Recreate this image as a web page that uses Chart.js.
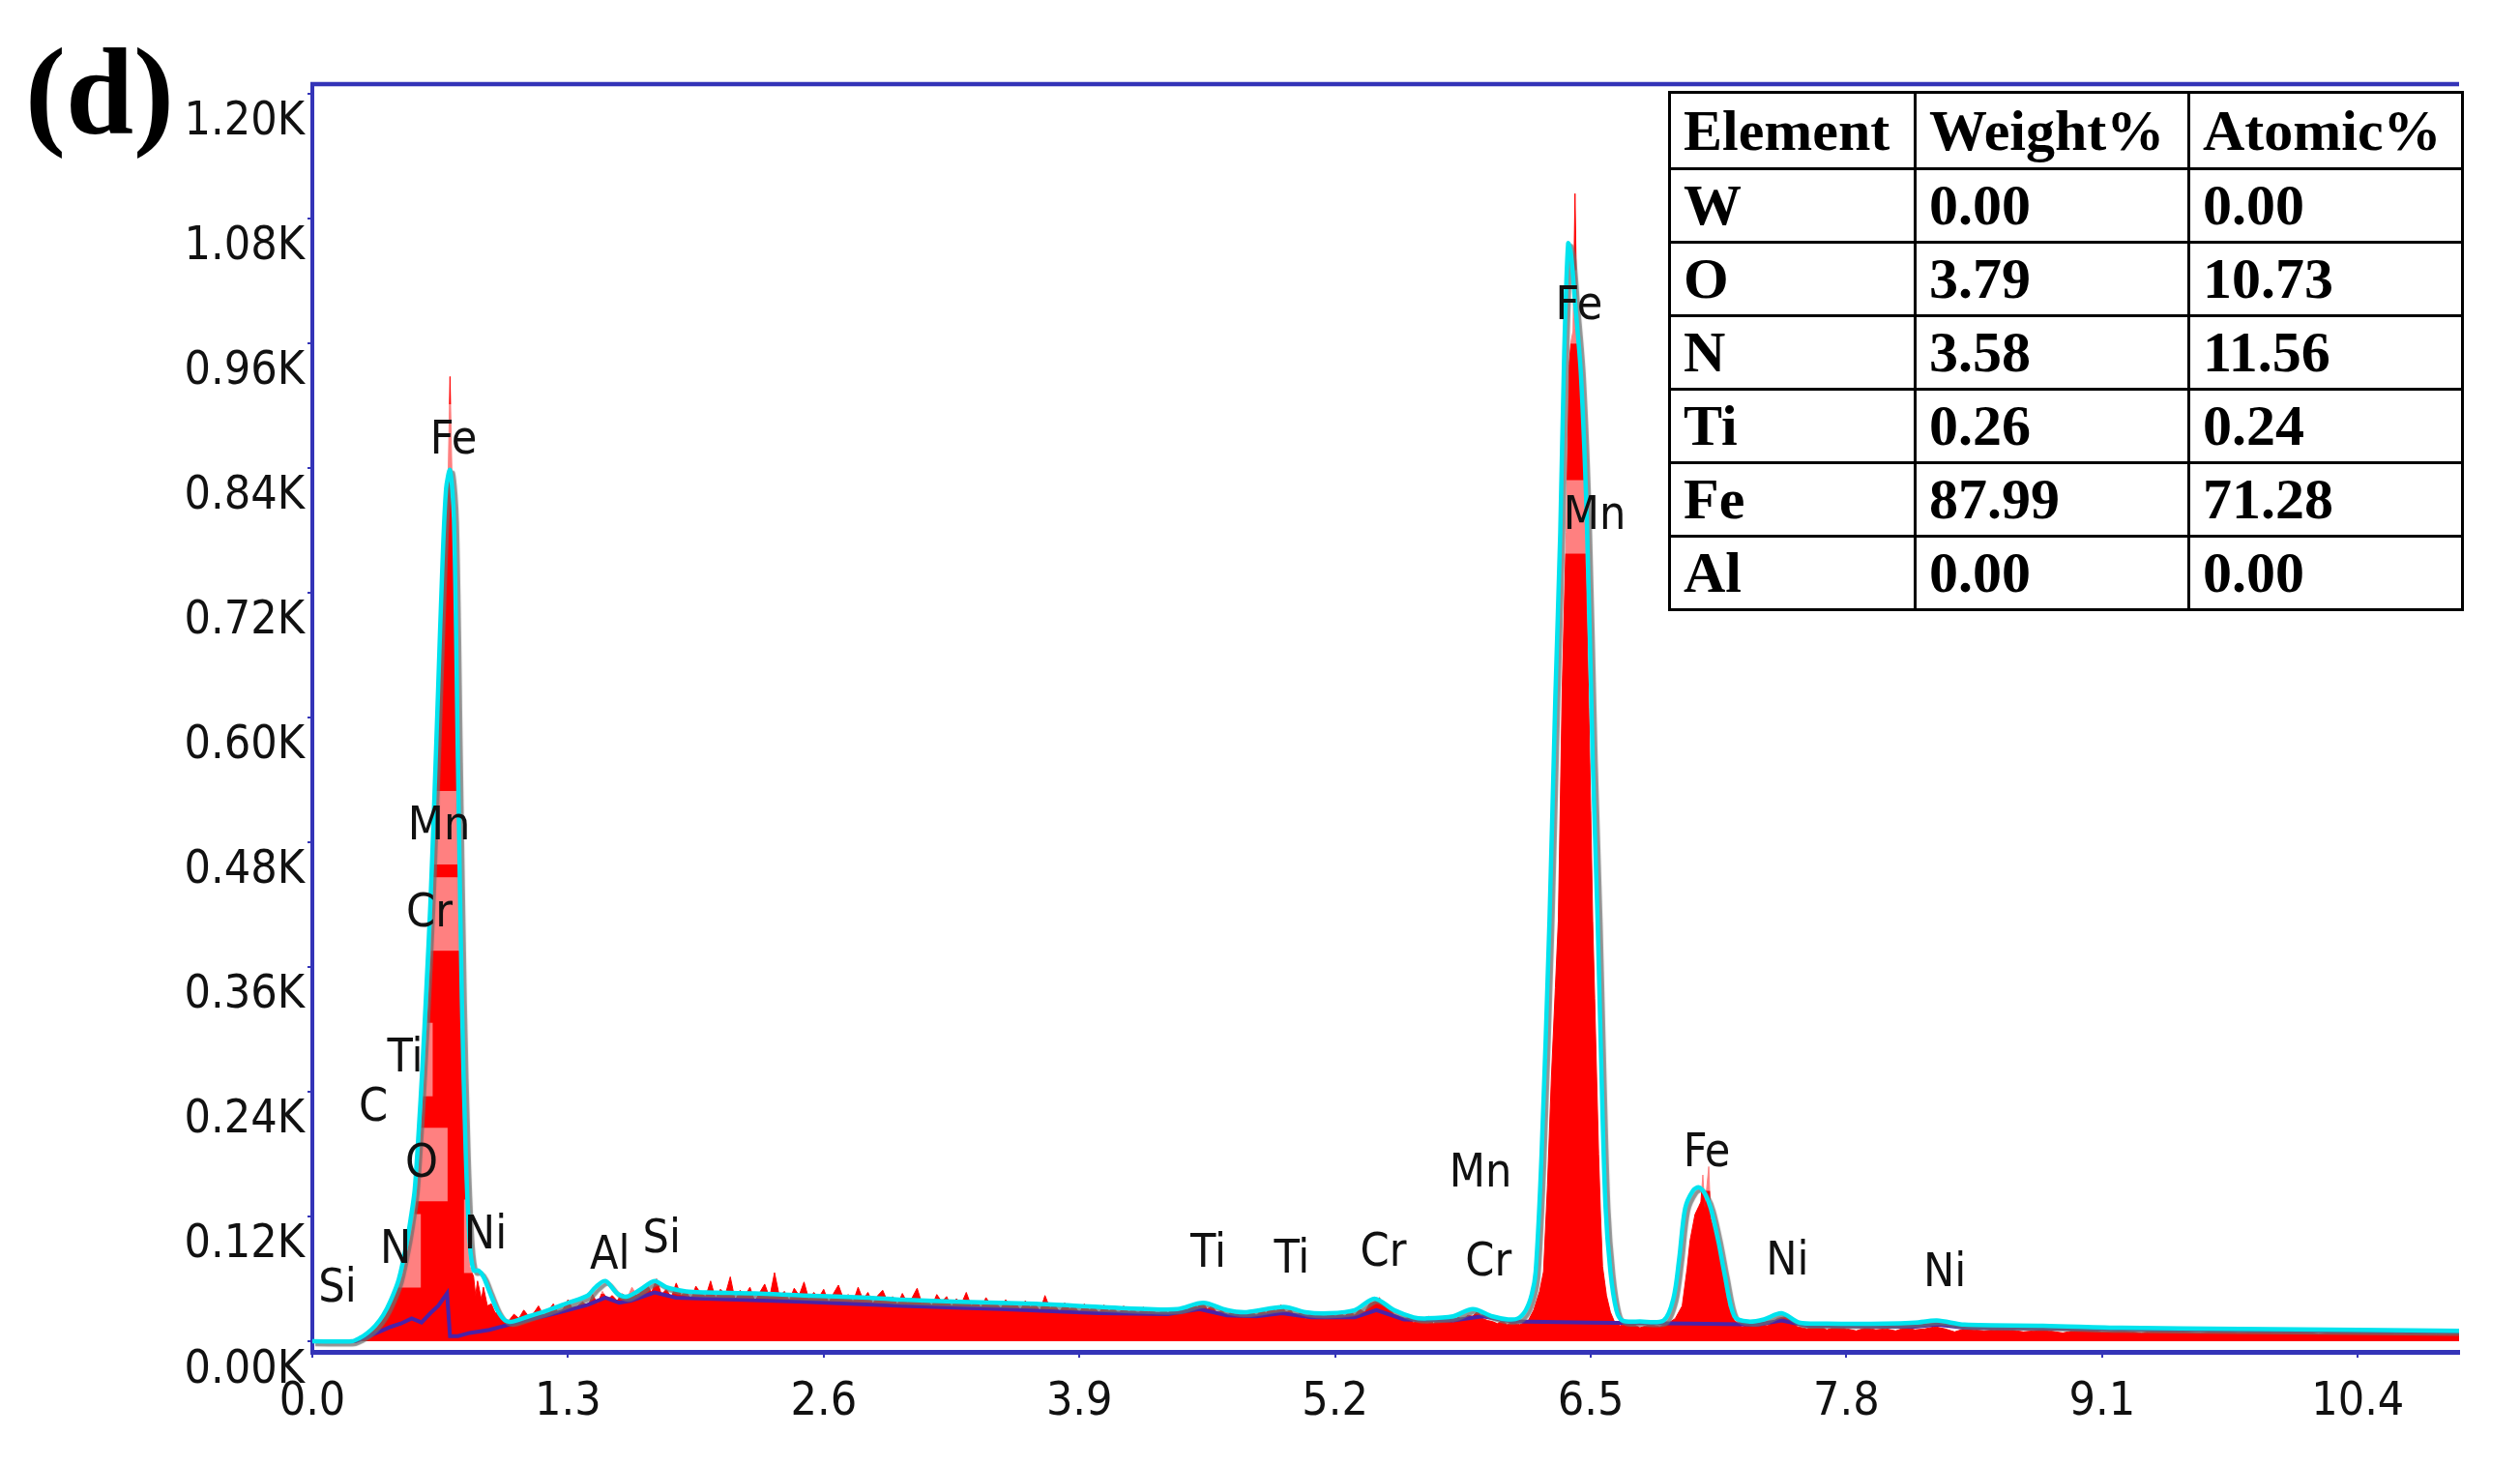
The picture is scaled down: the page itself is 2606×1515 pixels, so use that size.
<!DOCTYPE html>
<html>
<head>
<meta charset="utf-8">
<script src="https://cdn.jsdelivr.net/npm/chart.js@4.4.1/dist/chart.umd.min.js"></script>
<style>
  html, body { margin: 0; padding: 0; background: #fff; }
  #wrap { position: relative; width: 2606px; height: 1515px; overflow: hidden; }
  #painel { position: absolute; left: 26px; top: 32px; font: bold 126px 'Liberation Serif', 'Times New Roman', serif; line-height: 1; }
  #tabela { position: absolute; left: 1725px; top: 94px; width: 820px; table-layout: fixed; border-collapse: collapse; background: #fff; font: bold 60px 'Liberation Serif', 'Times New Roman', serif; }
  #tabela td { border: 3px solid #000; padding: 0 0 0 13px; height: 73px; white-space: nowrap; overflow: hidden; }
  #tabela tr:first-child td { height: 76px; }
</style>
</head>
<body>
<div id="wrap">
  <canvas id="grafico" width="2606" height="1515"></canvas>
  <div id="painel">(d)</div>
  <table id="tabela">
    <colgroup><col style="width:254px"><col style="width:283px"><col style="width:283px"></colgroup>
    <tbody></tbody>
  </table>
</div>
<script>
// espectro medido (vermelho)
const espectroKeV = [
  0.00, 0.10, 0.20, 0.24, 0.26, 0.28, 0.30, 0.32, 0.34, 0.36, 0.38, 0.40, 0.42, 0.44, 0.46, 0.48,
  0.50, 0.52, 0.53, 0.55, 0.57, 0.59, 0.605, 0.62, 0.635, 0.65, 0.665, 0.68, 0.69, 0.70, 0.71, 0.72,
  0.73, 0.74, 0.75, 0.76, 0.77, 0.78, 0.79, 0.80, 0.82, 0.83, 0.84, 0.86, 0.87, 0.89, 0.91, 0.93,
  0.95, 0.97,
  1.000, 1.025, 1.050, 1.075, 1.100, 1.125, 1.150, 1.175, 1.200, 1.225, 1.250, 1.275, 1.300, 1.325, 1.350, 1.375,
  1.400, 1.425, 1.450, 1.475, 1.500, 1.525, 1.550, 1.575, 1.600, 1.625, 1.650, 1.675, 1.700, 1.725, 1.750, 1.775,
  1.800, 1.825, 1.850, 1.875, 1.900, 1.925, 1.950, 1.975, 2.000, 2.025, 2.050, 2.075, 2.100, 2.125, 2.150, 2.175,
  2.200, 2.225, 2.250, 2.275, 2.300, 2.325, 2.350, 2.375, 2.400, 2.425, 2.450, 2.475, 2.500, 2.525, 2.550, 2.575,
  2.600, 2.625, 2.650, 2.675, 2.700, 2.725, 2.750, 2.775, 2.800, 2.825, 2.850, 2.875, 2.900, 2.925, 2.950, 2.975,
  3.000, 3.025, 3.050, 3.075, 3.100, 3.125, 3.150, 3.175, 3.200, 3.225, 3.250, 3.275, 3.300, 3.325, 3.350, 3.375,
  3.400, 3.425, 3.450, 3.475, 3.500, 3.525, 3.550, 3.575, 3.600, 3.625, 3.650, 3.675, 3.700, 3.725, 3.750, 3.775,
  3.800, 3.825, 3.850, 3.875, 3.900, 3.925, 3.950, 3.975, 4.000, 4.025, 4.050, 4.075, 4.100, 4.125, 4.150, 4.175,
  4.200, 4.225, 4.250, 4.275, 4.300, 4.325, 4.350, 4.375, 4.400, 4.425, 4.450, 4.475, 4.500, 4.525, 4.550, 4.575,
  4.600, 4.625, 4.650, 4.675, 4.700, 4.725, 4.750, 4.775, 4.800, 4.825, 4.850, 4.875, 4.900, 4.925, 4.950, 4.975,
  5.000, 5.025, 5.050, 5.075, 5.100, 5.125, 5.150, 5.175, 5.200, 5.225, 5.250, 5.275, 5.300, 5.325, 5.350, 5.375,
  5.400, 5.425, 5.450, 5.475, 5.500, 5.525, 5.550, 5.575, 5.600, 5.625, 5.650, 5.675, 5.700, 5.725, 5.750, 5.775,
  5.800, 5.825, 5.850, 5.875, 5.900, 5.925, 5.950, 5.975, 6.000, 6.025, 6.050, 6.075, 6.100,
  6.14, 6.18, 6.21, 6.24, 6.26, 6.28, 6.30, 6.32, 6.335, 6.355, 6.375, 6.39, 6.40, 6.41, 6.42, 6.43,
  6.44, 6.45, 6.46, 6.47, 6.48, 6.49, 6.50, 6.51, 6.52, 6.53, 6.54, 6.55, 6.56, 6.58, 6.60, 6.62,
  6.65, 6.70, 6.75, 6.80, 6.85, 6.90, 6.93, 6.965, 6.99, 7.005, 7.03, 7.05, 7.06, 7.07, 7.08, 7.10,
  7.11, 7.13, 7.15, 7.175, 7.20, 7.23, 7.27, 7.30,
  7.35, 7.40, 7.45, 7.50, 7.55, 7.60, 7.65, 7.70, 7.75, 7.80, 7.85, 7.90, 7.95, 8.00, 8.05, 8.10,
  8.15, 8.20, 8.25, 8.30, 8.35, 8.40, 8.50, 8.60, 8.70, 8.80, 8.90, 9.00, 9.10, 9.20, 9.30, 9.40,
  9.50, 9.60, 9.70, 9.80, 9.90, 10.00, 10.10, 10.20, 10.30, 10.40, 10.50, 10.60, 10.70, 10.80, 10.92
]
const espectroContagens = [
  0, 0, 0, 1, 3, 6, 9, 13, 17, 22, 30, 40, 50, 57, 63, 82,
  100, 120, 134, 190, 253, 320, 372, 460, 551, 640, 730, 800, 828, 928, 832, 720,
  580, 470, 380, 260, 190, 135, 95, 72, 62, 44, 58, 40, 52, 34, 36, 27,
  30, 21,
  20, 26, 22, 30, 24, 27, 34, 25, 29, 36, 27, 31, 40, 30, 34, 38,
  33, 45, 36, 48, 40, 44, 39, 46, 41, 52, 44, 49, 55, 47, 60, 45,
  50, 42, 56, 44, 48, 40, 53, 46, 43, 58, 41, 50, 45, 62, 39, 49,
  44, 52, 38, 47, 55, 42, 66, 43, 48, 39, 51, 44, 57, 40, 47, 42,
  50, 37, 46, 54, 41, 45, 38, 52, 40, 47, 36, 44, 49, 38, 43, 35,
  46, 37, 42, 51, 36, 40, 34, 45, 38, 43, 33, 41, 36, 47, 34, 39,
  32, 42, 35, 38, 31, 40, 34, 37, 30, 39, 33, 36, 29, 44, 32, 35,
  28, 37, 31, 34, 27, 36, 30, 33, 27, 35, 29, 32, 26, 34, 28, 31,
  26, 33, 28, 30, 25, 32, 27, 31, 29, 33, 30, 36, 33, 38, 31, 34,
  27, 30, 24, 29, 23, 28, 25, 30, 24, 31, 27, 33, 29, 35, 28, 30,
  23, 28, 22, 27, 24, 26, 22, 28, 23, 27, 24, 29, 25, 31, 28, 36,
  38, 42, 35, 31, 26, 24, 21, 23, 18, 22, 20, 24, 17, 21, 19, 22,
  18, 23, 21, 25, 24, 29, 22, 20, 19, 17, 20, 16, 18,
  16, 19, 30, 48, 67, 150, 254, 340, 404, 629, 778, 940, 962, 972, 1104, 985,
  966, 930, 870, 790, 700, 610, 510, 404, 330, 254, 180, 120, 72, 44, 28, 19,
  15, 18, 13, 16, 14, 18, 22, 34, 70, 97, 122, 130, 134, 160, 128, 168,
  118, 104, 96, 60, 34, 20, 14, 15,
  16, 15, 22, 24, 14, 12, 16, 11, 14, 12, 10, 13, 11, 12, 10, 13,
  11, 12, 14, 12, 9, 12, 10, 12, 9, 11, 8, 12, 9, 10, 8, 11,
  9, 8, 10, 8, 9, 8, 10, 7, 9, 8, 9, 7, 8, 7, 8
]

// espectro ajustado (ciano)
const ajusteKeV = [
  0.00, 0.20, 0.24, 0.28, 0.32, 0.36, 0.40, 0.44, 0.48, 0.50, 0.52, 0.54, 0.56, 0.58, 0.60, 0.62,
  0.64, 0.66, 0.68, 0.70, 0.72, 0.74, 0.76, 0.78, 0.80, 0.82, 0.845, 0.87, 0.90, 0.94, 0.98, 1.02,
  1.10, 1.20, 1.30, 1.40, 1.44, 1.49, 1.55, 1.60, 1.67, 1.74, 1.80, 1.90, 2.00, 2.25, 2.50, 2.83,
  3.00, 3.30, 3.68, 4.00, 4.25, 4.40, 4.53, 4.65, 4.75, 4.94, 5.05, 5.17, 5.30, 5.40, 5.50, 5.60,
  5.66, 5.80, 5.90, 6.00, 6.08, 6.13, 6.17, 6.20, 6.22, 6.25, 6.29, 6.32, 6.345, 6.365, 6.385, 6.40,
  6.42, 6.45, 6.48, 6.51, 6.535, 6.555, 6.575, 6.60, 6.63, 6.66, 6.75, 6.87, 6.92, 6.95, 6.98, 7.02,
  7.05, 7.08, 7.11, 7.15, 7.18, 7.23, 7.30, 7.38, 7.47, 7.56, 7.70, 8.00, 8.15, 8.26, 8.40, 8.80,
  9.20, 9.80, 10.40, 10.92
]
const ajusteContagens = [
  0, 0, 3, 8, 15, 25, 40, 60, 95, 118, 145, 200, 265, 340, 420, 520,
  630, 740, 820, 838, 790, 560, 330, 180, 95, 68, 68, 62, 48, 30, 20, 19,
  24, 30, 37, 44, 52, 58, 46, 43, 50, 58, 52, 48, 47, 46, 44, 42,
  40, 38, 36, 33, 31, 31, 37, 30, 28, 33, 28, 27, 30, 41, 30, 23,
  22, 24, 31, 24, 21, 22, 30, 45, 67, 180, 404, 620, 778, 950, 1056, 1045,
  1000, 930, 790, 560, 404, 254, 130, 67, 30, 20, 19, 20, 41, 80, 128, 145,
  148, 142, 128, 95, 65, 24, 19, 21, 27, 18, 17, 17, 18, 20, 16, 15,
  13, 12, 11, 10
]

// fundo (violeta)
const fundoKeV = [
  0.00, 0.22, 0.26, 0.30, 0.35, 0.40, 0.45, 0.505, 0.555, 0.60, 0.64, 0.685, 0.70, 0.74, 0.80, 0.90,
  1.00, 1.10, 1.20, 1.30, 1.40, 1.49, 1.56, 1.62, 1.74, 1.85, 2.00, 2.50, 3.00, 3.50, 4.00, 4.35,
  4.51, 4.65, 4.80, 4.93, 5.08, 5.30, 5.41, 5.55, 5.80, 5.95, 6.10, 6.50, 7.00, 7.35, 7.47, 7.60,
  8.00, 8.15, 8.26, 8.40, 9.00, 10.00, 10.92
]
const fundoContagens = [
  0, 0, 3, 6, 10, 14, 17, 22, 18, 27, 34, 46, 5, 5, 8, 11,
  16, 21, 25, 30, 35, 42, 37, 39, 47, 42, 41, 38, 34, 31, 27, 26,
  31, 25, 24, 27, 23, 23, 30, 21, 20, 24, 19, 18, 17, 16, 20, 15,
  14, 14, 16, 13, 12, 10, 9
]

// rótulos dos picos
const picoNomes = ['Fe', 'Mn', 'Cr', 'Ti', 'C', 'O', 'N', 'Si', 'Ni', 'Al', 'Si',
  'Ti', 'Ti', 'Cr', 'Mn', 'Cr', 'Fe', 'Mn', 'Fe', 'Ni', 'Ni']
const picoKeV = [0.718, 0.644, 0.595, 0.472, 0.31, 0.555, 0.423, 0.128, 0.88, 1.513, 1.776,
  4.555, 4.98, 5.445, 5.94, 5.98, 6.44, 6.52, 7.09, 7.50, 8.30]
const picoContagem = [866, 494, 411, 271, 224, 170, 87, 50, 101, 81, 97,
  83, 78, 84, 160, 75, 995, 793, 180, 76, 65]

// eixos
const ticksX = [0, 1.3, 2.6, 3.9, 5.2, 6.5, 7.8, 9.1, 10.4]
const ticksY = [0, 120, 240, 360, 480, 600, 720, 840, 960, 1080, 1200]

// tabela de composição
const cabecalho = ['Element', 'Weight%', 'Atomic%']
const elementos = ['W', 'O', 'N', 'Ti', 'Fe', 'Al']
const pesoPct = [0.00, 3.79, 3.58, 0.26, 87.99, 0.00]
const atomicoPct = [0.00, 10.73, 11.56, 0.24, 71.28, 0.00]

const azul = '#3434b8'
const fonteEixo = "'Liberation Sans Narrow', 'Arial Narrow', 'DejaVu Sans Condensed', sans-serif"

function pares(xs, ys) {
  return xs.map((x, i) => ({ x, y: ys[i] }))
}

function montarTabela() {
  const $tb = document.querySelector('#tabela tbody')
  let html = '<tr>' + cabecalho.map(c => `<td>${c}</td>`).join('') + '</tr>'
  elementos.forEach((el, i) => {
    html += `<tr><td>${el}</td><td>${pesoPct[i].toFixed(2)}</td><td>${atomicoPct[i].toFixed(2)}</td></tr>`
  })
  $tb.innerHTML = html
}

const pluginRotulos = {
  id: 'rotulos',
  beforeDatasetDraw(chart, args) {
    if (args.index !== 2) return
    const ctx = chart.ctx
    ctx.save()
    ctx.shadowColor = 'rgba(110,110,110,0.75)'
    ctx.shadowOffsetX = 3
    ctx.shadowOffsetY = 3
    ctx.shadowBlur = 1
  },
  afterDatasetDraw(chart, args) {
    const ctx = chart.ctx
    if (args.index === 2) {
      ctx.restore()
      return
    }
    if (args.index !== 0) return
    const { x, y } = chart.scales
    ctx.save()
    ctx.font = `48px ${fonteEixo}`
    ctx.fillStyle = 'rgba(255,255,255,0.5)'
    picoNomes.forEach((nome, i) => {
      const px = x.getPixelForValue(picoKeV[i])
      const py = y.getPixelForValue(picoContagem[i])
      const w = ctx.measureText(nome).width
      ctx.fillRect(px - w / 2, py - 38, w + 10, 76)
    })
    ctx.restore()
  },
  afterDatasetsDraw(chart) {
    const ctx = chart.ctx
    const { x, y } = chart.scales
    const area = chart.chartArea
    ctx.save()
    ctx.font = `48px ${fonteEixo}`
    ctx.fillStyle = '#111'
    ctx.textAlign = 'center'
    ctx.textBaseline = 'middle'
    picoNomes.forEach((nome, i) => {
      ctx.fillText(nome, x.getPixelForValue(picoKeV[i]), y.getPixelForValue(picoContagem[i]))
    })
    // linha superior do quadro
    ctx.strokeStyle = azul
    ctx.lineWidth = 4.5
    ctx.beginPath()
    ctx.moveTo(area.left - 2, area.top)
    ctx.lineTo(area.right, area.top)
    ctx.stroke()
    ctx.restore()
  }
}

montarTabela()

new Chart(document.getElementById('grafico'), {
  type: 'line',
  data: {
    datasets: [
      {
        label: 'Espectro',
        data: pares(espectroKeV, espectroContagens),
        borderColor: '#ff0000',
        borderWidth: 1,
        backgroundColor: '#ff0000',
        fill: 'origin',
        pointRadius: 0,
        tension: 0,
        order: 3,
      },
      {
        label: 'Fundo',
        data: pares(fundoKeV, fundoContagens),
        borderColor: '#4a22a8',
        borderWidth: 4,
        fill: false,
        pointRadius: 0,
        tension: 0,
        order: 2,
      },
      {
        label: 'Ajuste',
        data: pares(ajusteKeV, ajusteContagens),
        borderColor: '#00e3ee',
        borderWidth: 4.5,
        fill: false,
        pointRadius: 0,
        tension: 0.3,
        order: 1,
      },
    ]
  },
  options: {
    responsive: false,
    animation: false,
    devicePixelRatio: 1,
    layout: { padding: { top: 87, right: 63, left: 0, bottom: 0 } },
    plugins: {
      legend: { display: false },
      tooltip: { enabled: false },
    },
    scales: {
      x: {
        type: 'linear',
        min: 0,
        max: 10.915,
        afterFit: (s) => { s.height = 117 },
        afterBuildTicks: (s) => { s.ticks = ticksX.map(v => ({ value: v })) },
        ticks: {
          autoSkip: false,
          maxRotation: 0,
          padding: 18,
          color: '#111',
          font: { family: fonteEixo, size: 48 },
          callback: (v) => Number(v).toFixed(1),
        },
        grid: { drawOnChartArea: false, drawTicks: true, tickLength: 6, color: azul, lineWidth: 2 },
        border: { display: true, color: azul, width: 5 },
      },
      y: {
        min: -10.2,
        max: 1209.3,
        afterFit: (s) => { s.width = 323 },
        afterBuildTicks: (s) => { s.ticks = ticksY.map(v => ({ value: v })) },
        ticks: {
          autoSkip: false,
          padding: 3,
          labelOffset: 30,
          color: '#111',
          font: { family: fonteEixo, size: 48 },
          callback: (v) => (v / 1000).toFixed(2) + 'K',
        },
        grid: { drawOnChartArea: false, drawTicks: true, tickLength: 5, color: azul, lineWidth: 2 },
        border: { display: true, color: azul, width: 4 },
      },
    },
  },
  plugins: [pluginRotulos],
})
</script>
</body>
</html>
